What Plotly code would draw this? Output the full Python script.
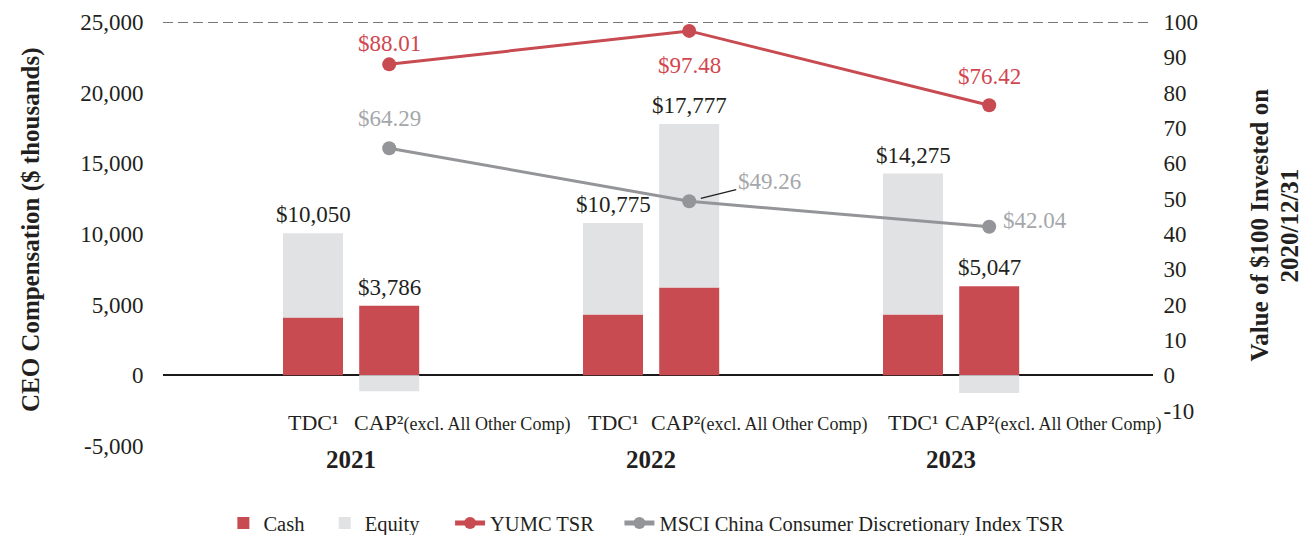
import plotly.graph_objects as go

# ---------------- data ----------------
years = ["2021", "2022", "2023"]
tdc_cash = [4100, 4300, 4300]
tdc_equity = [5950, 6475, 9975]
cap_cash = [4920, 6215, 6300]
cap_equity = [-1134, 11562, -1253]
tdc_total_labels = ["$10,050", "$10,775", "$14,275"]
cap_total_labels = ["$3,786", "$17,777", "$5,047"]
yumc_tsr = [88.01, 97.48, 76.42]
msci_tsr = [64.29, 49.26, 42.04]
yumc_labels = ["$88.01", "$97.48", "$76.42"]
msci_labels = ["$64.29", "$49.26", "$42.04"]
left_ticks = [-5000, 0, 5000, 10000, 15000, 20000, 25000]
left_ticktext = ["-5,000", "0", "5,000", "10,000", "15,000", "20,000", "25,000"]
right_ticks = [-10, 0, 10, 20, 30, 40, 50, 60, 70, 80, 90, 100]
right_ticktext = ["-10", "0", "10", "20", "30", "40", "50", "60", "70", "80", "90", "100"]

# ---------------- style ----------------
RED = "#C84B51"
GREY_BAR = "#E1E2E4"
GREY_LINE = "#939598"
GREY_TXT = "#A5A7AA"
RED_TXT = "#D2464F"
TXT = "#231F20"
FONT = "Liberation Serif"
NB = "\u00a0"

idx = list(range(len(years)))
off = 0.127
tdc_x = [i - off for i in idx]
cap_x = [i + off for i in idx]
bw = 0.2
cap_label_shift = [-37, -40, -46]

fig = go.Figure()
fig.add_trace(go.Bar(x=tdc_x, y=tdc_cash, width=bw, name="Cash" + NB * 3, marker_color=RED,
                     legendgroup="cash", marker_line_width=0))
fig.add_trace(go.Bar(x=tdc_x, y=tdc_equity, width=bw, name="Equity" + NB * 5, marker_color=GREY_BAR,
                     legendgroup="equity", marker_line_width=0))
fig.add_trace(go.Bar(x=cap_x, y=cap_cash, width=bw, name="Cash", marker_color=RED,
                     legendgroup="cash", showlegend=False, marker_line_width=0))
fig.add_trace(go.Bar(x=cap_x, y=cap_equity, width=bw, name="Equity", marker_color=GREY_BAR,
                     legendgroup="equity", showlegend=False, marker_line_width=0))
fig.add_trace(go.Scatter(x=cap_x, y=yumc_tsr, name="YUMC TSR" + NB * 4, yaxis="y2", mode="lines+markers",
                         line=dict(color=RED, width=3), marker=dict(size=14, color=RED)))
fig.add_trace(go.Scatter(x=cap_x, y=msci_tsr, name="MSCI China Consumer Discretionary Index TSR",
                         yaxis="y2", mode="lines+markers",
                         line=dict(color=GREY_LINE, width=3), marker=dict(size=14, color=GREY_LINE)))

ann = []
# bar total labels
for xs, cash, eq, labs in ((tdc_x, tdc_cash, tdc_equity, tdc_total_labels),
                           (cap_x, cap_cash, cap_equity, cap_total_labels)):
    for x, c, e, t in zip(xs, cash, eq, labs):
        top = c + max(e, 0)
        ann.append(dict(x=x, y=top, xref="x", yref="y", text=t, showarrow=False,
                        yanchor="bottom", yshift=4, font=dict(size=23, color=TXT, family=FONT)))

# TSR labels
yumc_shift = [21, -35, 29]
for x, v, t, s in zip(cap_x, yumc_tsr, yumc_labels, yumc_shift):
    ann.append(dict(x=x, y=v, xref="x", yref="y2", text=t, showarrow=False, yanchor="middle",
                    yshift=s, font=dict(size=23, color=RED_TXT, family=FONT)))
ann.append(dict(x=cap_x[0], y=msci_tsr[0], xref="x", yref="y2", text=msci_labels[0], showarrow=False,
                yanchor="middle", yshift=30, font=dict(size=23, color=GREY_TXT, family=FONT)))
ann.append(dict(x=cap_x[1], y=msci_tsr[1], xref="x", yref="y2", text=msci_labels[1], showarrow=True,
                arrowhead=0, arrowwidth=1.3, arrowcolor=TXT, ax=80, ay=-20, standoff=12,
                font=dict(size=23, color=GREY_TXT, family=FONT)))
ann.append(dict(x=cap_x[2], y=msci_tsr[2], xref="x", yref="y2", text=msci_labels[2], showarrow=False,
                xanchor="left", yanchor="middle", xshift=12, yshift=6,
                font=dict(size=23, color=GREY_TXT, family=FONT)))

# category labels
for i, y in enumerate(years):
    ann.append(dict(x=tdc_x[i], y=0.0566, xref="x", yref="paper", text="TDC¹", showarrow=False,
                    yanchor="middle", font=dict(size=22, color=TXT, family=FONT)))
    ann.append(dict(x=cap_x[i], y=0.0566, xref="x", yref="paper",
                    text="CAP²<span style='font-size:18px'>(excl. All Other Comp)</span>",
                    showarrow=False, xanchor="left", xshift=cap_label_shift[i], yanchor="middle",
                    font=dict(size=22, color=TXT, family=FONT)))
    ann.append(dict(x=idx[i], y=-0.031, xref="x", yref="paper", text="<b>%s</b>" % y, showarrow=False,
                    yanchor="middle", font=dict(size=25, color=TXT, family=FONT)))

# axis titles
ann.append(dict(x=-0.134, y=0.51, xref="paper", yref="paper", text="<b>CEO Compensation ($ thousands)</b>",
                showarrow=False, textangle=-90, xanchor="center", yanchor="middle",
                font=dict(size=25, color=TXT, family=FONT)))
ann.append(dict(x=1.1071, y=0.52, xref="paper", yref="paper",
                text="<b>Value of $100 Invested on</b>",
                showarrow=False, textangle=-90, xanchor="center", yanchor="middle",
                font=dict(size=25, color=TXT, family=FONT)))
ann.append(dict(x=1.1384, y=0.52, xref="paper", yref="paper",
                text="<b>2020/12/31</b>",
                showarrow=False, textangle=-90, xanchor="center", yanchor="middle",
                font=dict(size=25, color=TXT, family=FONT)))

fig.update_layout(
    width=1308, height=535,
    barmode="relative",
    plot_bgcolor="white", paper_bgcolor="white",
    margin=dict(l=163, r=155, t=22, b=89, autoexpand=False),
    font=dict(family=FONT, color=TXT),
    xaxis=dict(range=[-0.627, 2.673], showticklabels=False, showgrid=False, zeroline=False,
               showline=False, ticks=""),
    yaxis=dict(range=[-5000, 25000], tickvals=left_ticks, ticktext=left_ticktext, showgrid=False,
               zeroline=True, zerolinecolor="#1a1a1a", zerolinewidth=2, showline=False,
               ticks="outside", ticklen=14, tickcolor="rgba(0,0,0,0)", automargin=False,
               tickfont=dict(size=23, color=TXT, family=FONT)),
    yaxis2=dict(range=[-20, 100], tickvals=right_ticks, ticktext=right_ticktext, overlaying="y",
                side="right", showgrid=False, zeroline=False, showline=False, automargin=False,
                ticks="outside", ticklen=5, tickcolor="rgba(0,0,0,0)",
                tickfont=dict(size=23, color=TXT, family=FONT)),
    legend=dict(orientation="h", x=0.061, xanchor="left", y=-0.182, yanchor="middle",
                font=dict(size=20.5, color=TXT, family=FONT), itemsizing="constant",
                traceorder="normal"),
    annotations=ann,
    shapes=[dict(type="line", xref="paper", yref="y", x0=0, x1=1, y0=25000, y1=25000,
                 line=dict(color="#4a4a4a", width=1.5, dash="10px,5px"), layer="below")],
    showlegend=True,
)

fig.write_html("out.html", config={"displayModeBar": False},
               post_script="document.body.style.margin='0';")
